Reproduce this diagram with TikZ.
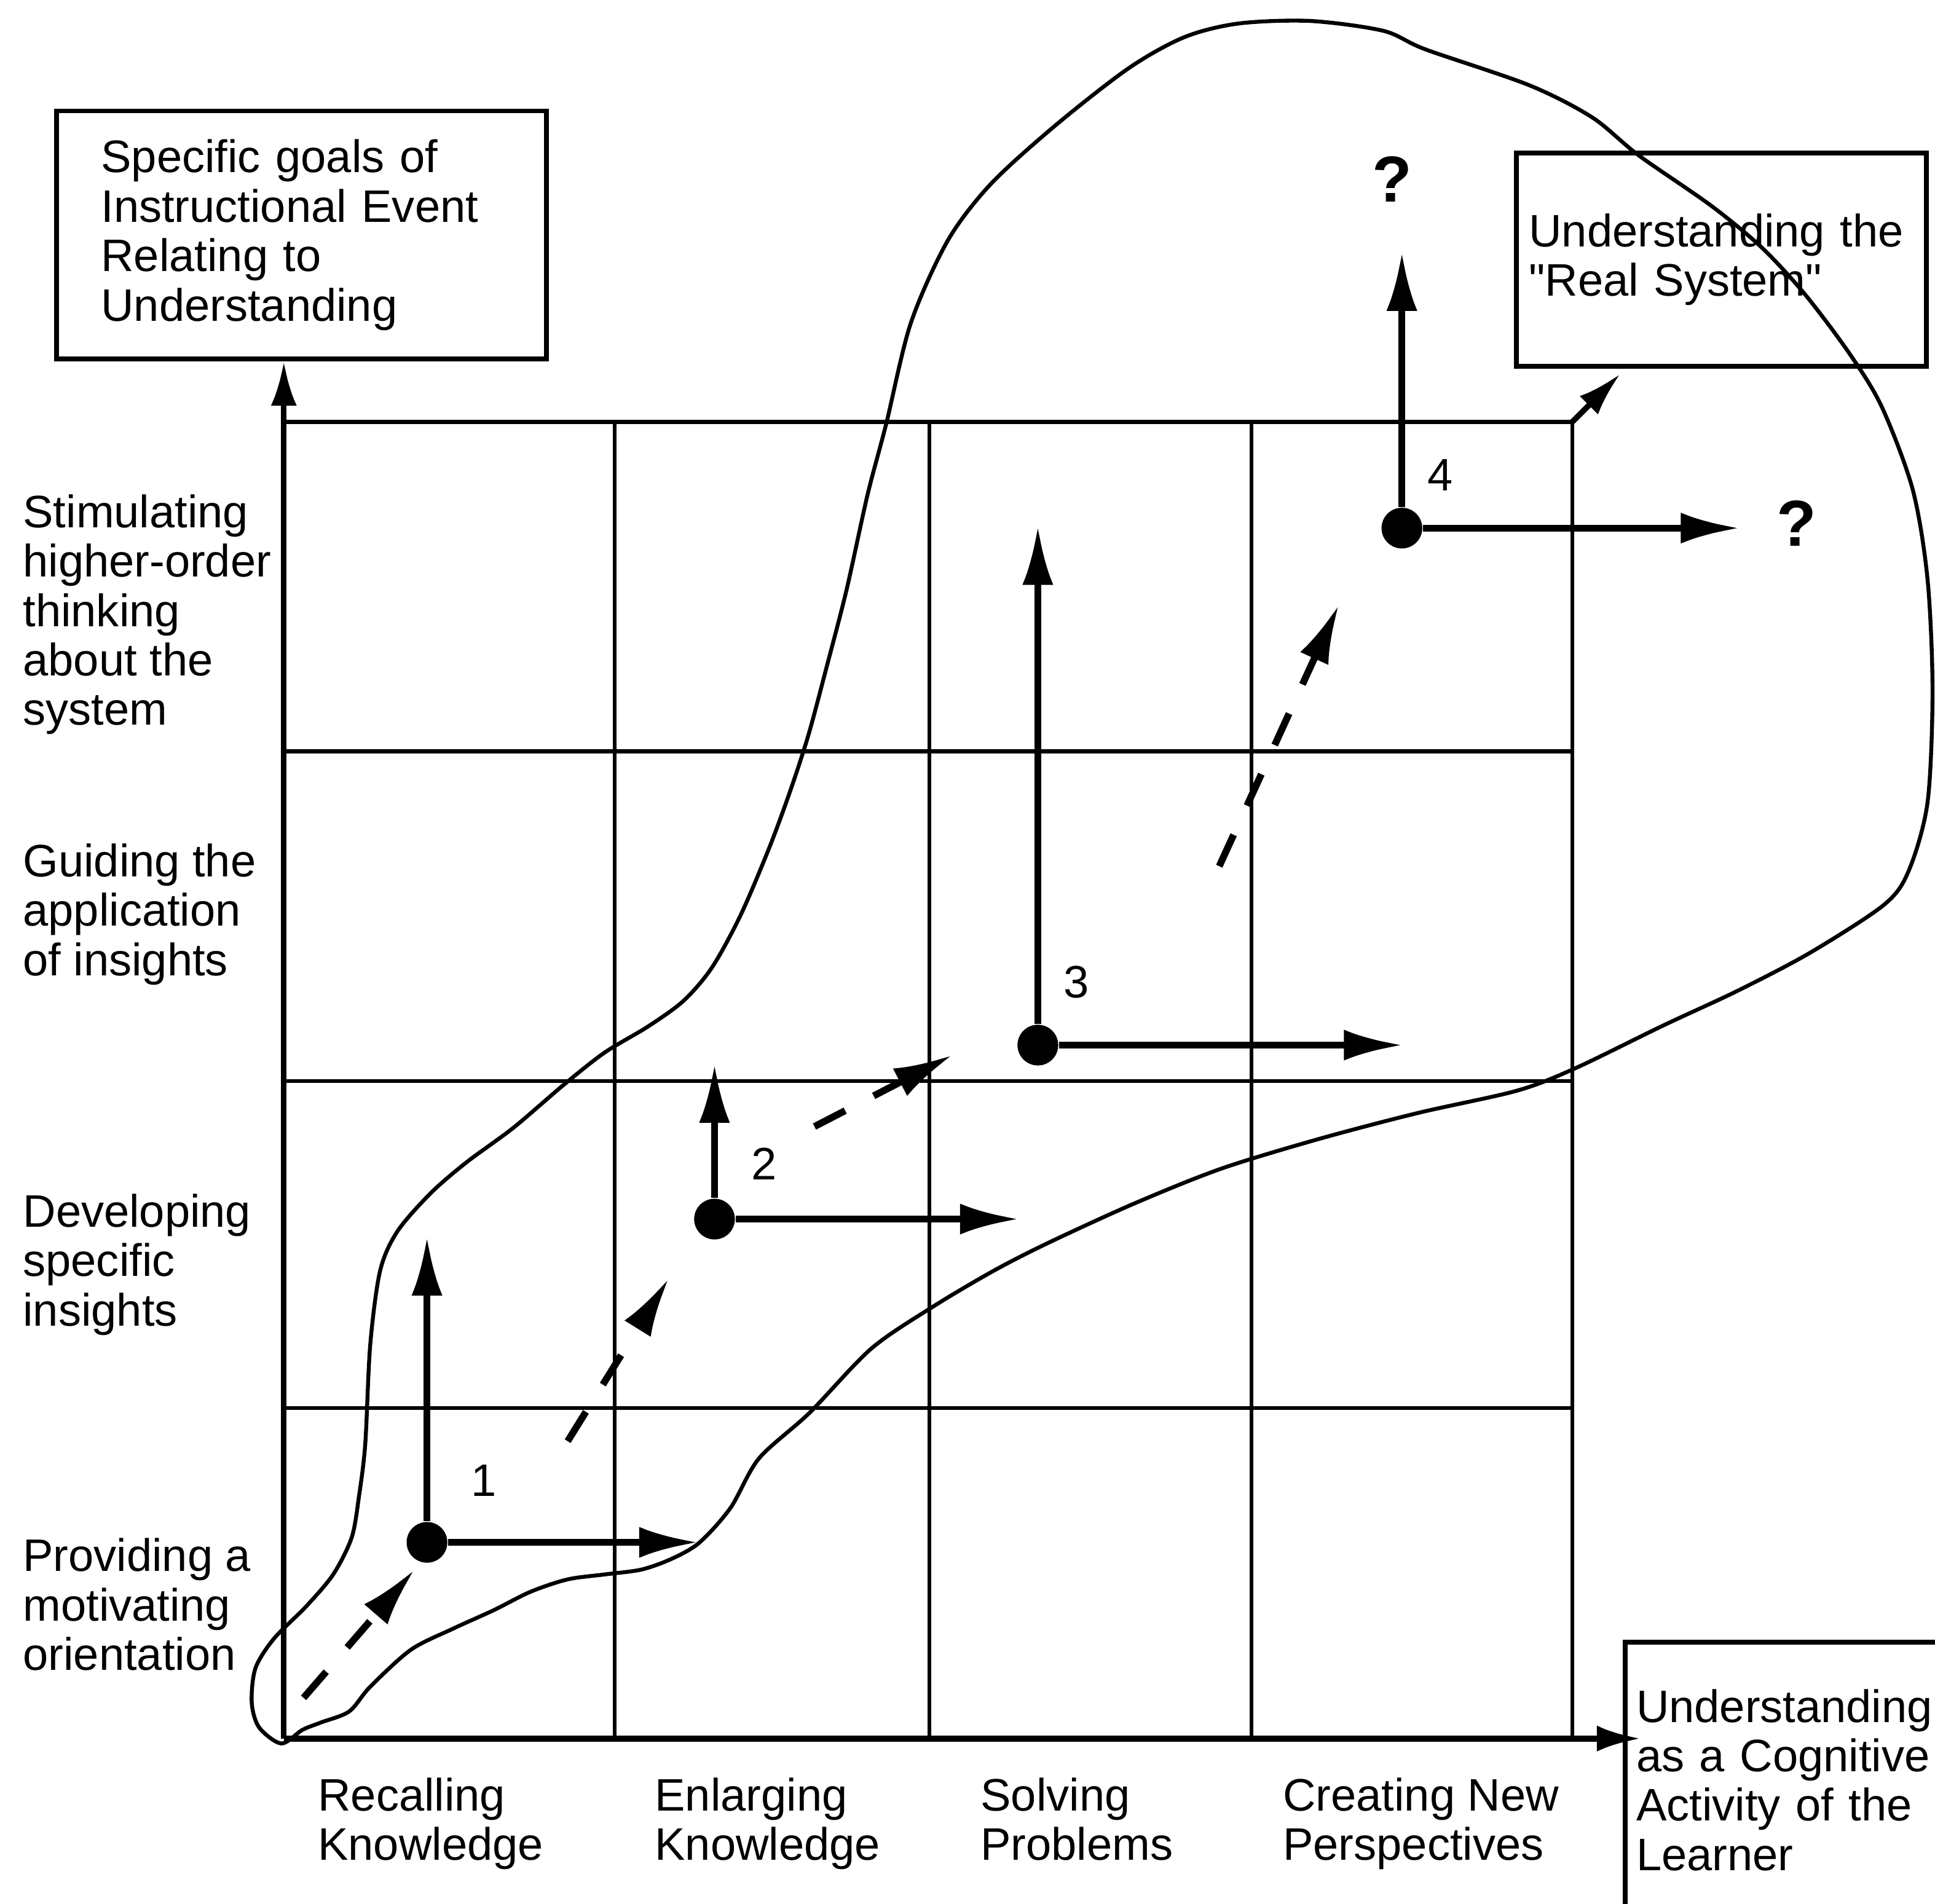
\documentclass[tikz,border=0pt]{standalone}
\usepackage{fontspec}
\setmainfont{Liberation Sans}
\usetikzlibrary{arrows.meta}

\begin{document}
\begin{tikzpicture}[x=0.1mm, y=-0.1mm,
  every node/.style={font=\fontsize{10.5}{11.4}\selectfont, inner sep=0pt},
  lbl/.style={anchor=north west, align=left},
  box/.style={draw, line width=1.1pt, anchor=north west, align=left},
  grid/.style={line width=0.9pt},
  axis/.style={line width=1.3pt, -{Latex[length=3.6mm,width=2.1mm]}},
  arr/.style={line width=1.6pt, -{Latex[length=4.8mm,width=2.5mm]}},
  trail/.style={arr, dash pattern=on 2.8mm off 2.6mm},
  dot/.style={circle, fill, minimum size=3.3mm},
  ask/.style={font=\fontsize{15}{15}\bfseries\selectfont}]
  \useasboundingbox (0,0) rectangle (1568,1543);

  % the grid
  \coordinate (o) at (230,1409);
  \coordinate (tr) at (1274,342);
  \draw[grid] (230,1141) -- (230,342) -- (tr) -- (1274,1409);
  \draw[grid] (498,342) -- (498,1409);
  \draw[grid] (753,342) -- (753,1409);
  \draw[grid] (1014,342) -- (1014,1409);
  \draw[grid] (230,609) -- (1274,609);
  \draw[grid] (230,876) -- (1274,876);
  \draw[grid] (230,1141) -- (1274,1141);

  % boxes
  \node[box, text width=32.5mm, inner xsep=3.6mm, minimum height=20.1mm] (goals) at (44,88) {Specific goals of\\Instructional Event\\Relating to\\Understanding};
  \node[box, text width=31.2mm, inner xsep=1mm, minimum height=17.3mm] (real) at (1227,122) {Understanding the\\\textquotedbl Real System\textquotedbl};
  \node[box, text width=24.2mm, inner xsep=0.9mm, inner ysep=3.8mm] (learner) at (1315,1329) {Understanding\\as a Cognitive\\Activity of the\\Learner};

  % axes
  \draw[axis] (o) -- (o |- goals.south);
  \draw[axis, line width=1.5pt, shorten >=-1.5mm] (o) -- (o -| learner.west);
  \coordinate (rs) at (1313,303);
  \draw[axis] (tr) -- (rs);

  % row and column labels
  \node[lbl] (row4) at (18,400) {Stimulating\\higher-order\\thinking\\about the\\system};
  \node[lbl] (row3) at (18,683) {Guiding the\\application\\of insights};
  \node[lbl] (row2) at (18,967) {Developing\\specific\\insights};
  \node[lbl] (row1) at (18,1246) {Providing a\\motivating\\orientation};
  \node[lbl] (col1) at (257,1440) {Recalling\\Knowledge};
  \node[lbl] (col2) at (530,1440) {Enlarging\\Knowledge};
  \node[lbl] (col3) at (794,1440) {Solving\\Problems};
  \node[lbl] (col4) at (1039,1440) {Creating New\\Perspectives};

  % the region
  \draw[line width=0.9pt] plot[smooth cycle, tension=0.5] coordinates {
    (228,1413) (210,1400) (204,1380) (207,1352) (222,1328) (248,1302)
    (270,1276) (285,1246) (291,1212) (296,1170) (300,1090) (308,1030)
    (322,998) (349,967) (378,942) (416,914) (457,879) (490,853)
    (525,832) (554,811) (577,784) (600,742) (623,688) (640,642)
    (655,596) (670,540) (686,478) (703,401) (718,344) (738,262)
    (768,195) (803,149) (856,101) (915,55) (960,30) (1004,19)
    (1062,17) (1121,25) (1155,40) (1239,69) (1290,95) (1328,126)
    (1387,167) (1428,201) (1463,239) (1499,287) (1525,330) (1550,397)
    (1562,470) (1566,560) (1562,650) (1547,705) (1527,733) (1467,772)
    (1408,803) (1348,831) (1276,866) (1229,884) (1149,902) (1069,923)
    (990,947) (920,975) (850,1007) (805,1030) (756,1059) (706,1093)
    (656,1145) (615,1182) (592,1222) (567,1250) (545,1263) (520,1272)
    (490,1276) (460,1280) (430,1290) (400,1305) (367,1320) (333,1337)
    (300,1367) (283,1387) (260,1396) (245,1402)};

  % stages
  \node[dot] (d1) at (346,1250) {};
  \node[dot] (d2) at (579,988) {};
  \node[dot] (d3) at (841,847) {};
  \node[dot] (d4) at (1136,428) {};
  \coordinate (u1) at (346,1002);
  \coordinate (r1) at (566,1250);
  \coordinate (u2) at (579,862);
  \coordinate (r2) at (826,988);
  \coordinate (u3) at (841,426);
  \coordinate (r3) at (1137,847);
  \coordinate (u4) at (1136,204);
  \coordinate (r4) at (1410,428);
  \draw[arr] (d1) -- (u1);
  \draw[arr] (d1) -- (r1);
  \draw[arr] (d2) -- (u2);
  \draw[arr] (d2) -- (r2);
  \draw[arr] (d3) -- (u3);
  \draw[arr] (d3) -- (r3);
  \draw[arr] (d4) -- (u4);
  \draw[arr] (d4) -- (r4);
  \node (n1) at (392,1200) {1};
  \node (n2) at (619,943) {2};
  \node (n3) at (872,796) {3};
  \node (n4) at (1167,385) {4};
  \node[ask] (q1) at (1128,145) {?};
  \node[ask] (q2) at (1456,424) {?};

  % dashed steps
  \coordinate (s1) at (246,1376);
  \coordinate (t1) at (336,1272);
  \coordinate (s2) at (460,1168);
  \coordinate (t2) at (542,1036);
  \coordinate (s3) at (660,913);
  \coordinate (t3) at (772,855);
  \coordinate (s4) at (988,702);
  \coordinate (t4) at (1085,490);
  \draw[trail] (s1) -- (t1);
  \draw[trail] (s2) -- (t2);
  \draw[trail] (s3) -- (t3);
  \draw[trail] (s4) -- (t4);
\end{tikzpicture}
\end{document}
